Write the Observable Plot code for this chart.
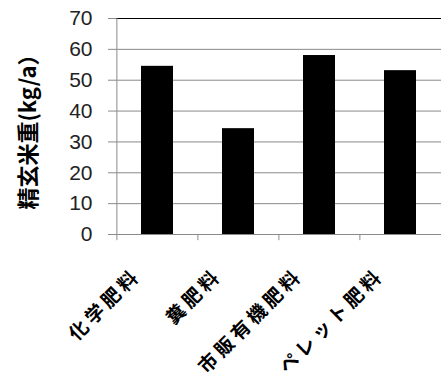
<!DOCTYPE html>
<html>
<head>
<meta charset="utf-8">
<script src="https://cdn.jsdelivr.net/npm/d3@7"></script>
<script src="https://cdn.jsdelivr.net/npm/@observablehq/plot@0.6"></script>
<style>
  html, body { margin: 0; padding: 0; background: #fff; }
</style>
</head>
<body>
<div id="chart"></div>
<script>
const categories = ["化学肥料", "糞肥料", "市販有機肥料", "ペレット肥料"];
const values = [54.5, 34.3, 58, 53.1];
const yTicks = [0, 10, 20, 30, 40, 50, 60, 70];
const yTitle = "精玄米重(kg/a）";

const data = categories.map((c, i) => ({cat: c, value: values[i]}));
const halfStep = (441 - 116) / categories.length / 2;

const chart = Plot.plot({
  width: 441,
  height: 380,
  marginLeft: 116,
  marginRight: 0,
  marginTop: 18,
  marginBottom: 146,
  style: {background: "#fff"},
  x: {domain: categories, paddingInner: 0.6, paddingOuter: 0.3, axis: null},
  y: {domain: [0, 70], axis: null},
  marks: [
    Plot.ruleY(yTicks.slice(1, -1), {stroke: "#8a8a8a", strokeWidth: 1}),
    Plot.ruleY([70], {stroke: "#000", strokeWidth: 1}),
    Plot.ruleY([0], {stroke: "#8a8a8a", strokeWidth: 1}),
    Plot.barY(data, {x: "cat", y: "value", fill: "#000"}),
    Plot.ruleX([categories[0]], {x: d => d, y1: 0, y2: 70, dx: -halfStep, stroke: "#8a8a8a"}),
    Plot.ruleX(categories, {x: d => d, y1: -2, y2: 0, dx: -halfStep, stroke: "#8a8a8a"}),
    Plot.axisY({
      ticks: yTicks,
      tickSize: 8,
      tickPadding: 16,
      tickFormat: d => String(d),
      label: null,
      stroke: "#8a8a8a",
      fill: "#222",
      fontSize: 21,
      fontFamily: "'Liberation Sans Narrow', 'Liberation Sans', Arial, sans-serif"
    }),
    Plot.text([yTitle], {
      frameAnchor: "left",
      dx: -88,
      rotate: -90,
      textAnchor: "middle",
      text: d => d,
      fontSize: 22,
      fontWeight: "bold",
      fontFamily: "'Noto Sans CJK JP', sans-serif",
      fill: "#000"
    }),
    Plot.text(categories, {
      x: d => d,
      frameAnchor: "bottom",
      text: d => d,
      rotate: -45,
      textAnchor: "end",
      lineAnchor: "middle",
      dx: -20,
      dy: 38,
      fontSize: 19,
      fontWeight: "bold",
      fontFamily: "'Noto Sans CJK JP', sans-serif",
      fill: "#000"
    })
  ]
});
// widen the spacing of the rotated category labels, as in the reference
d3.select(chart).selectAll("text")
  .filter(function() { return categories.includes(this.textContent); })
  .style("letter-spacing", "4px");
document.getElementById("chart").appendChild(chart);
</script>
</body>
</html>
